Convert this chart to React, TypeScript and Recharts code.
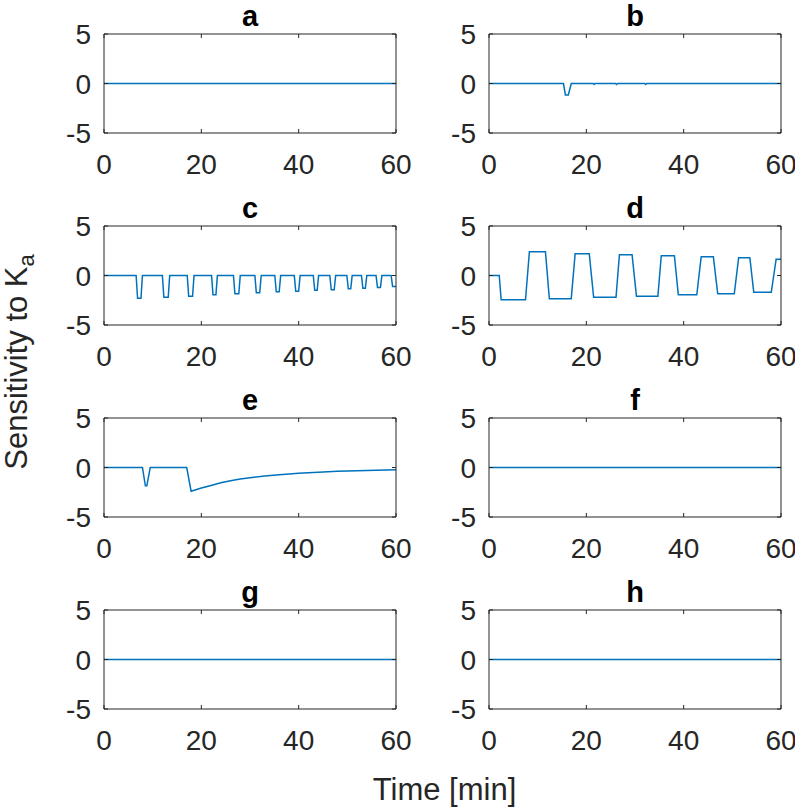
import React from 'react';
import { LineChart, Line, XAxis, YAxis } from 'recharts';

// ---------- data ----------
const timeFlat = [0, 60];
const valuesFlat = [0, 0];

const timeB = [0, 15.3, 15.7, 16.3, 16.9, 21.4, 21.6, 21.8, 26.0, 26.2, 26.4, 32.0, 32.2, 32.4, 60];
const valuesB = [0, 0, -1.15, -1.15, 0, 0, -0.1, 0, 0, -0.1, 0, 0, -0.1, 0, 0];

const timeC = [
  0,
  6.6, 6.9, 7.6, 7.9,
  12.0, 12.3, 13.2, 13.5,
  17.1, 17.4, 18.2, 18.5,
  22.1, 22.4, 23.0, 23.3,
  26.6, 26.9, 27.7, 28.0,
  31.0, 31.3, 32.0, 32.3,
  35.1, 35.4, 36.0, 36.3,
  39.1, 39.4, 40.0, 40.3,
  43.0, 43.3, 43.8, 44.1,
  46.4, 46.7, 47.3, 47.6,
  49.9, 50.2, 50.7, 51.0,
  52.9, 53.2, 53.7, 54.0,
  55.9, 56.2, 56.8, 57.1,
  59.0, 59.3, 60,
];
const valuesC = [
  0,
  0, -2.3, -2.3, 0,
  0, -2.2, -2.2, 0,
  0, -2.1, -2.1, 0,
  0, -1.95, -1.95, 0,
  0, -1.85, -1.85, 0,
  0, -1.75, -1.75, 0,
  0, -1.65, -1.65, 0,
  0, -1.6, -1.6, 0,
  0, -1.5, -1.5, 0,
  0, -1.45, -1.45, 0,
  0, -1.35, -1.35, 0,
  0, -1.3, -1.3, 0,
  0, -1.2, -1.2, 0,
  0, -1.1, -1.1,
];

const timeD = [0, 2.1, 2.5, 7.5, 8.3, 11.6, 12.4, 16.9, 17.7, 20.6, 21.5, 26.1, 26.8, 29.4, 30.3, 34.7, 35.4, 38.1, 38.9, 42.7, 43.6, 46.1, 47.0, 50.4, 51.3, 53.6, 54.4, 58.0, 59.0, 60];
const valuesD = [0, 0, -2.45, -2.45, 2.4, 2.4, -2.35, -2.35, 2.2, 2.2, -2.2, -2.2, 2.1, 2.1, -2.1, -2.1, 2.0, 2.0, -1.95, -1.95, 1.9, 1.9, -1.85, -1.85, 1.8, 1.8, -1.7, -1.7, 1.65, 1.65];

const timeE = [0, 7.9, 8.5, 8.8, 9.5, 17.0, 17.9, 20, 22, 24, 26, 28, 30, 33, 36, 40, 44, 48, 52, 56, 60];
const valuesE = [0, 0, -1.85, -1.85, 0, 0, -2.4, -2.07, -1.82, -1.55, -1.33, -1.17, -1.04, -0.87, -0.74, -0.59, -0.48, -0.39, -0.33, -0.28, -0.23];

const panelTitles = ['a', 'b', 'c', 'd', 'e', 'f', 'g', 'h'];
const panelTimes = [timeFlat, timeB, timeC, timeD, timeE, timeFlat, timeFlat, timeFlat];
const panelValues = [valuesFlat, valuesB, valuesC, valuesD, valuesE, valuesFlat, valuesFlat, valuesFlat];

const xTicks = [0, 20, 40, 60];
const yTicks = [-5, 0, 5];
const xLabel = 'Time [min]';
const yLabelMain = 'Sensitivity to K';
const yLabelSub = 'a';

// ---------- styles / layout ----------
const FONT = '"Liberation Sans", Arial, Helvetica, sans-serif';
const AXIS = '#262626';
const LINE = '#0072BD';
const PLOT_W = 292;
const PLOT_H = 99;
const colLeft = [104, 489];
const rowTop = [34, 226, 418, 610];
// outer margins + axis sizes
const M = { top: 10, right: 10, bottom: 10, left: 10 };
const X_BOTTOM_H = 45;
const X_TOP_H = 20;
const Y_LEFT_W = 80;
const Y_RIGHT_W = 10;
const TICK_FS = 28;

function BottomTick(props: any) {
  const { x, y, payload } = props;
  return (
    <g>
      <line x1={x} x2={x} y1={y} y2={y - 4} stroke={AXIS} strokeWidth={1} />
      <text x={x} y={y + 41} textAnchor="middle" fontSize={TICK_FS} fill={AXIS} fontFamily={FONT}>
        {payload.value}
      </text>
    </g>
  );
}
function TopTick(props: any) {
  const { x, y } = props;
  return <line x1={x} x2={x} y1={y} y2={y + 4} stroke={AXIS} strokeWidth={1} />;
}
function LeftTick(props: any) {
  const { x, y, payload } = props;
  return (
    <g>
      <line x1={x} x2={x + 4} y1={y} y2={y} stroke={AXIS} strokeWidth={1} />
      <text x={x - 13} y={y + 10} textAnchor="end" fontSize={TICK_FS} fill={AXIS} fontFamily={FONT}>
        {payload.value}
      </text>
    </g>
  );
}
function RightTick(props: any) {
  const { x, y } = props;
  return <line x1={x} x2={x - 4} y1={y} y2={y} stroke={AXIS} strokeWidth={1} />;
}

function Panel({ idx }: { idx: number }) {
  const col = idx % 2;
  const row = Math.floor(idx / 2);
  const times = panelTimes[idx];
  const values = panelValues[idx];
  const data = times.map((t, i) => ({ t, v: values[i] }));
  const offL = M.left + Y_LEFT_W;
  const offT = M.top + X_TOP_H;
  return (
    <div style={{ position: 'absolute', left: colLeft[col] - offL, top: rowTop[row] - offT }}>
      <LineChart
        width={offL + PLOT_W + Y_RIGHT_W + M.right}
        height={offT + PLOT_H + X_BOTTOM_H + M.bottom}
        data={data}
        margin={M}
      >
        <XAxis xAxisId="b" dataKey="t" type="number" domain={[0, 60]} ticks={xTicks} interval={0}
          height={X_BOTTOM_H} tickSize={0} tickMargin={0} tickLine={false} tick={(p: any) => <BottomTick {...p} />}
          axisLine={{ stroke: AXIS, strokeWidth: 1 }} allowDataOverflow />
        <XAxis xAxisId="t" orientation="top" dataKey="t" type="number" domain={[0, 60]} ticks={xTicks} interval={0}
          height={X_TOP_H} tickSize={0} tickMargin={0} tickLine={false} tick={(p: any) => <TopTick {...p} />}
          axisLine={{ stroke: AXIS, strokeWidth: 1 }} allowDataOverflow />
        <YAxis yAxisId="l" type="number" domain={[-5, 5]} ticks={yTicks} interval={0}
          width={Y_LEFT_W} tickSize={0} tickMargin={0} tickLine={false} tick={(p: any) => <LeftTick {...p} />}
          axisLine={{ stroke: AXIS, strokeWidth: 1 }} allowDataOverflow />
        <YAxis yAxisId="r" orientation="right" type="number" domain={[-5, 5]} ticks={yTicks} interval={0}
          width={Y_RIGHT_W} tickSize={0} tickMargin={0} tickLine={false} tick={(p: any) => <RightTick {...p} />}
          axisLine={{ stroke: AXIS, strokeWidth: 1 }} allowDataOverflow />
        <Line xAxisId="b" yAxisId="l" type="linear" dataKey="v" stroke={LINE} strokeWidth={1.5}
          dot={false} activeDot={false} isAnimationActive={false} />
      </LineChart>
    </div>
  );
}

export default function App() {
  return (
    <div style={{ position: 'absolute', left: 0, top: 0, width: 795, height: 807, background: '#fff', overflow: 'hidden' }}>
      {panelTitles.map((_, i) => (
        <Panel key={i} idx={i} />
      ))}
      <svg width={795} height={807} style={{ position: 'absolute', left: 0, top: 0, pointerEvents: 'none' }}>
        {panelTitles.map((title, i) => (
          <text key={title} x={colLeft[i % 2] + PLOT_W / 2} y={rowTop[Math.floor(i / 2)] - 8}
            textAnchor="middle" fontSize={29} fontWeight="bold" fill="#000" fontFamily={FONT}>
            {title}
          </text>
        ))}
        <text x={444.5} y={800} textAnchor="middle" fontSize={31} fill={AXIS} fontFamily={FONT}>
          {xLabel}
        </text>
        <text transform="translate(27,362) rotate(-90)" textAnchor="middle" fontSize={31} fill={AXIS} fontFamily={FONT}>
          {yLabelMain}
          <tspan fontSize={22} dy={7}>{yLabelSub}</tspan>
        </text>
      </svg>
    </div>
  );
}
